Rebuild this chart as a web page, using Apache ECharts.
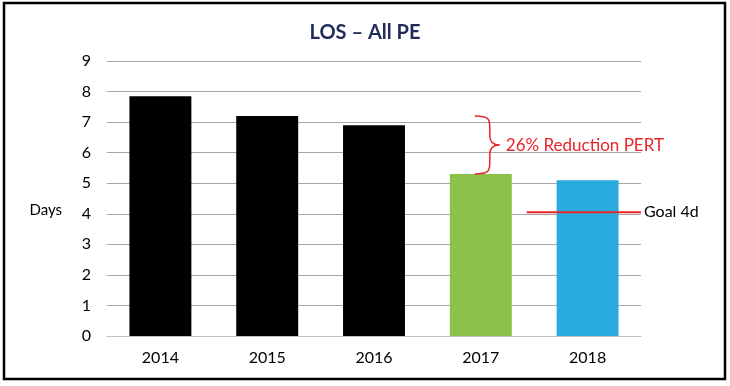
<!DOCTYPE html>
<html><head><meta charset="utf-8">
<script src="https://cdn.jsdelivr.net/npm/echarts@6/dist/echarts.min.js"></script>
<style>html,body{margin:0;padding:0;background:#fff}#c{width:730px;height:386px}</style>
</head><body><div id="c"></div>
<script>
var categories = ['2014', '2015', '2016', '2017', '2018'];
var values = [7.85, 7.2, 6.9, 5.3, 5.1];
var barColors = ['#000000', '#000000', '#000000', '#8BC34A', '#29ABE0'];
var yTicks = [0, 1, 2, 3, 4, 5, 6, 7, 8, 9];
var goalValue = 4.05;
var goalLabel = 'Goal 4d';
var braceFrom = 1, braceTo = 3; // 2015 -> 2017
var braceLabel = '26% Reduction PERT';

var FONT = 'Lato, "Open Sans", sans-serif';
var chart = echarts.init(document.getElementById('c'), null, {renderer: 'canvas'});
chart.setOption({
  animation: false,
  title: {text: 'LOS \u2013 All PE', left: 'center', top: 18,
    textStyle: {fontFamily: FONT, fontSize: 20, fontWeight: 'bold', color: '#1F2B5B'}},
  grid: {left: 107, right: 89, top: 61, bottom: 50},
  xAxis: {type: 'category', data: categories,
    axisLine: {lineStyle: {color: '#BFBFBF', width: 1}}, axisTick: {show: false},
    axisLabel: {fontFamily: FONT, fontSize: 16, color: '#000', margin: 14}},
  yAxis: {type: 'value', min: 0, max: 9, interval: 1,
    name: 'Days', nameLocation: 'middle', nameRotate: 0, nameGap: 45,
    nameTextStyle: {fontFamily: FONT, fontSize: 15, color: '#000', verticalAlign: 'top', lineHeight: 24},
    axisLine: {show: false}, axisTick: {show: false},
    axisLabel: {fontFamily: FONT, fontSize: 16, color: '#000', margin: 16,
      formatter: function (v) { return yTicks.indexOf(v) >= 0 ? String(v) : ''; }},
    splitLine: {lineStyle: {color: '#A6A6A6', width: 1}}},
  graphic: [{type: 'rect', shape: {x: 4, y: 3, width: 721, height: 376},
    style: {fill: 'none', stroke: '#000', lineWidth: 2.5}, z: 100}],
  series: [
    {type: 'bar', barWidth: '58%',
      data: values.map(function (v, i) { return {value: v, itemStyle: {color: barColors[i]}}; })},
    {type: 'custom', z: 10, data: [[braceTo, values[braceFrom], values[braceTo]]],
      renderItem: function (params, api) {
        var top = api.coord([api.value(0), api.value(1)]);
        var bot = api.coord([api.value(0), api.value(2)]);
        var x0 = top[0] - 6, xb = x0 + 15, xt = x0 + 25;
        var y0 = top[1], y1 = bot[1], ym = (y0 + y1) / 2;
        var p = 'M' + x0 + ' ' + y0 +
          ' C' + (xb) + ' ' + y0 + ' ' + xb + ' ' + (y0 + 4) + ' ' + xb + ' ' + (y0 + 12) +
          ' L' + xb + ' ' + (ym - 9) +
          ' C' + xb + ' ' + (ym - 2) + ' ' + (xb + 4) + ' ' + ym + ' ' + xt + ' ' + ym +
          ' C' + (xb + 4) + ' ' + ym + ' ' + xb + ' ' + (ym + 2) + ' ' + xb + ' ' + (ym + 9) +
          ' L' + xb + ' ' + (y1 - 12) +
          ' C' + xb + ' ' + (y1 - 4) + ' ' + xb + ' ' + y1 + ' ' + x0 + ' ' + y1;
        return {type: 'group', children: [
          {type: 'path', shape: {pathData: p}, style: {fill: 'none', stroke: '#E8262A', lineWidth: 1.5}},
          {type: 'text', x: xt + 6, y: ym, style: {text: braceLabel, fill: '#E8262A',
            font: '17px ' + FONT, verticalAlign: 'middle'}}
        ]};
      }},
    {type: 'custom', z: 10, data: [[3, goalValue]],
      renderItem: function (params, api) {
        var p1 = api.coord([api.value(0), api.value(1)]);
        var p2 = api.coord([api.value(0) + 1, api.value(1)]);
        var band = api.size([1, 0])[0];
        var xa = p1[0] + band * 0.43, xe = p2[0] + band * 0.5;
        return {type: 'group', children: [
          {type: 'line', shape: {x1: xa, y1: p1[1], x2: xe, y2: p1[1]},
            style: {stroke: '#E8262A', lineWidth: 2}},
          {type: 'text', x: xe + 3, y: p1[1], style: {text: goalLabel, fill: '#000',
            font: '16px ' + FONT, verticalAlign: 'middle'}}
        ]};
      }}
  ]
});
</script></body></html>
